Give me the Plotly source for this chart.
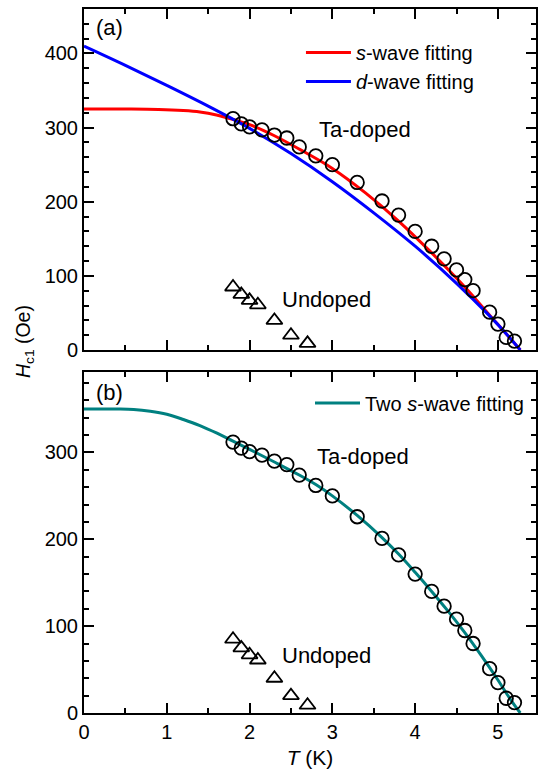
import plotly.graph_objects as go

# ---------------- data ----------------
ta_T = [1.8, 1.9, 2.0, 2.15, 2.3, 2.45, 2.6, 2.8, 3.0, 3.3, 3.6, 3.8, 4.0, 4.2, 4.35, 4.5, 4.6, 4.7, 4.9, 5.0, 5.1, 5.2]
ta_H = [312, 305, 301, 297, 290, 286, 274, 262, 250, 226, 201, 182, 160, 140, 123, 108, 95, 80, 51, 35, 17, 12]

un_T = [1.8, 1.9, 2.0, 2.1, 2.3, 2.5, 2.7]
un_H = [85, 75, 67, 61, 40, 20, 9]

s_T = [0, 0.5, 0.9, 1.2, 1.4, 1.6, 1.8, 2.0, 2.3, 2.6, 3.0, 3.4, 3.8, 4.2, 4.6, 4.9, 5.1, 5.27]
s_H = [325, 325, 324.5, 323, 321, 317, 311, 304, 289, 271, 245, 212, 174, 131, 85, 47, 22, 0]

d_T = [0, 0.5, 1.0, 1.5, 2.0, 2.5, 3.0, 3.5, 4.0, 4.5, 4.9, 5.1, 5.27]
d_H = [410, 384, 357, 329, 299, 265, 227, 185, 140, 90, 46, 22, 0]

two_T = [0, 0.4, 0.6, 0.8, 1.0, 1.2, 1.4, 1.6, 1.8, 2.0, 2.3, 2.6, 2.8, 3.0, 3.3, 3.6, 3.8, 4.0, 4.2, 4.4, 4.6, 4.8, 5.0, 5.1, 5.2, 5.27]
two_H = [350, 350, 349.5, 347.5, 344, 338, 331, 322.5, 313, 303.5, 289, 274, 263, 250, 227.5, 202, 183, 162, 140, 117, 92.5, 66, 38, 23, 9, 0]

x_range = [0, 5.46]
ya_range = [0, 460]
yb_range = [0, 393]

FONT = "Liberation Sans, Arial, sans-serif"

fig = go.Figure()

circle_marker = dict(symbol="circle-open", size=13.5, color="black", line=dict(width=1.8, color="black"))
tri_marker = dict(symbol="triangle-up-open", size=14, color="black", line=dict(width=1.8, color="black"))

# panel (a)
fig.add_trace(go.Scatter(x=s_T, y=s_H, mode="lines", line=dict(color="#ff0000", width=3, shape="spline"),
                         name="<i>s</i>-wave fitting", xaxis="x", yaxis="y", legend="legend"))
fig.add_trace(go.Scatter(x=d_T, y=d_H, mode="lines", line=dict(color="#0000ff", width=3, shape="spline"),
                         name="<i>d</i>-wave fitting", xaxis="x", yaxis="y", legend="legend"))
fig.add_trace(go.Scatter(x=ta_T, y=ta_H, mode="markers", marker=circle_marker, showlegend=False, xaxis="x", yaxis="y"))
fig.add_trace(go.Scatter(x=un_T, y=un_H, mode="markers", marker=tri_marker, showlegend=False, xaxis="x", yaxis="y"))

# panel (b)
fig.add_trace(go.Scatter(x=two_T, y=two_H, mode="lines", line=dict(color="#008080", width=3, shape="spline"),
                         name="Two <i>s</i>-wave fitting", xaxis="x2", yaxis="y2", legend="legend2"))
fig.add_trace(go.Scatter(x=ta_T, y=ta_H, mode="markers", marker=circle_marker, showlegend=False, xaxis="x2", yaxis="y2"))
fig.add_trace(go.Scatter(x=un_T, y=un_H, mode="markers", marker=tri_marker, showlegend=False, xaxis="x2", yaxis="y2"))

tickfont = dict(family=FONT, size=20, color="black")

common_x = dict(range=x_range, dtick=1, tick0=0, ticks="inside", ticklen=10, tickwidth=2, tickcolor="black",
                showline=True, linecolor="black", linewidth=2, mirror="allticks", showgrid=False, zeroline=False,
                minor=dict(dtick=0.5, ticks="inside", ticklen=5, tickwidth=2, tickcolor="black"),
                tickfont=tickfont, automargin=False)
common_y = dict(dtick=100, tick0=0, ticks="inside", ticklen=10, tickwidth=2, tickcolor="black",
                showline=True, linecolor="black", linewidth=2, mirror="allticks", showgrid=False, zeroline=False,
                minor=dict(dtick=20, ticks="inside", ticklen=5, tickwidth=2, tickcolor="black"),
                tickfont=tickfont, automargin=False)

fig.update_layout(
    width=540, height=770,
    margin=dict(l=84, r=4, t=9, b=57),
    paper_bgcolor="white", plot_bgcolor="white",
    font=dict(family=FONT, size=20, color="black"),
    xaxis=dict(**common_x, domain=[0, 1], anchor="y", showticklabels=False),
    yaxis=dict(**common_y, range=ya_range, domain=[0.5156, 1], anchor="x"),
    xaxis2=dict(**common_x, domain=[0, 1], anchor="y2",
                title=dict(text="<i>T</i> (K)", font=dict(family=FONT, size=21), standoff=8)),
    yaxis2=dict(**common_y, range=yb_range, domain=[0, 0.4848], anchor="x2"),
    legend=dict(x=0.48, y=0.966, xanchor="left", yanchor="top", bgcolor="rgba(0,0,0,0)",
                font=dict(family=FONT, size=20), tracegroupgap=0, itemwidth=45),
    legend2=dict(x=0.50, y=0.468, xanchor="left", yanchor="top", bgcolor="rgba(0,0,0,0)",
                 font=dict(family=FONT, size=20), itemwidth=45),
    showlegend=True,
)

ann_font = dict(family=FONT, size=22, color="black")
annotations = [
    dict(text="(a)", xref="x domain", yref="y domain", x=0.023, y=0.947, xanchor="left", yanchor="middle",
         showarrow=False, font=ann_font),
    dict(text="(b)", xref="x2 domain", yref="y2 domain", x=0.023, y=0.938, xanchor="left", yanchor="middle",
         showarrow=False, font=ann_font),
    dict(text="Ta-doped", xref="x", yref="y", x=3.39, y=297, xanchor="center", yanchor="middle",
         showarrow=False, font=ann_font),
    dict(text="Undoped", xref="x", yref="y", x=2.93, y=68, xanchor="center", yanchor="middle",
         showarrow=False, font=ann_font),
    dict(text="Ta-doped", xref="x2", yref="y2", x=3.37, y=295, xanchor="center", yanchor="middle",
         showarrow=False, font=ann_font),
    dict(text="Undoped", xref="x2", yref="y2", x=2.93, y=66, xanchor="center", yanchor="middle",
         showarrow=False, font=ann_font),
    dict(text="<i>H</i><sub>c1</sub> (Oe)", xref="paper", yref="paper", x=-0.1305, y=0.527, textangle=-90,
         xanchor="center", yanchor="middle",
         showarrow=False, font=dict(family=FONT, size=19.5, color="black")),
]
fig.update_layout(annotations=annotations)

fig.write_html("out.html")
